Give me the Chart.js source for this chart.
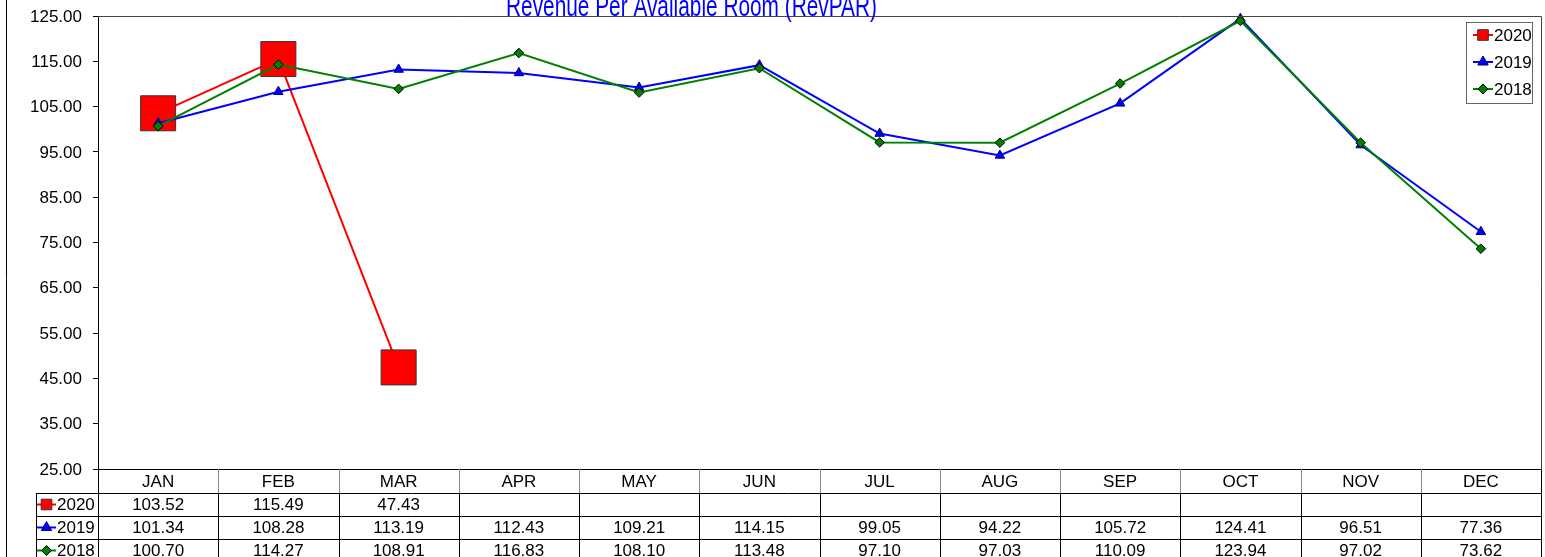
<!DOCTYPE html>
<html>
<head>
<meta charset="utf-8">
<script src="https://cdn.jsdelivr.net/npm/chart.js@4.4.1/dist/chart.umd.min.js"></script>
<style>
  html, body { margin: 0; padding: 0; background: #fff; }
  #wrap { width: 1545px; height: 557px; }
</style>
</head>
<body>
<div id="wrap"><canvas id="revparChart" width="1545" height="557"></canvas></div>
<script>
const chartTitle = 'Revenue Per Available Room (RevPAR)';
const months = ['JAN', 'FEB', 'MAR', 'APR', 'MAY', 'JUN', 'JUL', 'AUG', 'SEP', 'OCT', 'NOV', 'DEC'];
const revpar2020 = [103.52, 115.49, 47.43, null, null, null, null, null, null, null, null, null];
const revpar2019 = [101.34, 108.28, 113.19, 112.43, 109.21, 114.15, 99.05, 94.22, 105.72, 124.41, 96.51, 77.36];
const revpar2018 = [100.70, 114.27, 108.91, 116.83, 108.10, 113.48, 97.10, 97.03, 110.09, 123.94, 97.02, 73.62];
const yMin = 25;
const yMax = 125;
const yStep = 10;

const FONT = '"Liberation Sans", Arial, sans-serif';

const series = [
    { label: '2020', data: revpar2020, color: '#ff0000', fill: '#ff0000', edge: '#333333', style: 'rect', radius: 24.75, legendRadius: 7.5, order: 3 },
    { label: '2019', data: revpar2019, color: '#0000ff', fill: '#0000ff', edge: '#000080', style: 'triangle', radius: 5.5, legendRadius: 6, order: 2 },
    { label: '2018', data: revpar2018, color: '#008000', fill: '#008000', edge: '#000000', style: 'rectRot', radius: 4.8, legendRadius: 5, order: 1 }
];

// marker like chart.js pointStyle, used in legend and table keys
function drawMarker(ctx, style, x, y, r, fill, edge) {
    ctx.save();
    ctx.beginPath();
    if (style === 'rect') {
        const s = r * Math.SQRT1_2;
        ctx.rect(x - s, y - s, 2 * s, 2 * s);
    } else if (style === 'triangle') {
        ctx.moveTo(x, y - r);
        ctx.lineTo(x + 0.866 * r, y + 0.5 * r);
        ctx.lineTo(x - 0.866 * r, y + 0.5 * r);
        ctx.closePath();
    } else {
        ctx.moveTo(x, y - r);
        ctx.lineTo(x + r, y);
        ctx.lineTo(x, y + r);
        ctx.lineTo(x - r, y);
        ctx.closePath();
    }
    ctx.fillStyle = fill;
    ctx.fill();
    ctx.lineWidth = 1;
    ctx.strokeStyle = edge;
    ctx.stroke();
    ctx.restore();
}

function drawKey(ctx, s, x0, x1, y) {
    ctx.save();
    ctx.strokeStyle = s.color;
    ctx.lineWidth = 2;
    ctx.beginPath();
    ctx.moveTo(x0, y);
    ctx.lineTo(x1, y);
    ctx.stroke();
    ctx.restore();
    drawMarker(ctx, s.style, (x0 + x1) / 2, y, s.legendRadius, s.fill, s.edge);
}

const extrasPlugin = {
    id: 'extras',
    afterDraw(chart) {
        const ctx = chart.ctx;
        const area = chart.chartArea;
        const xs = chart.scales.x;
        const ys = chart.scales.y;

        ctx.save();
        // outer frame line on the left
        ctx.strokeStyle = '#000';
        ctx.lineWidth = 1;
        ctx.beginPath();
        ctx.moveTo(6.5, 0);
        ctx.lineTo(6.5, 557);
        ctx.stroke();

        // plot border top + right
        ctx.strokeStyle = '#444';
        ctx.beginPath();
        ctx.moveTo(area.left, area.top + 0.5);
        ctx.lineTo(area.right + 0.5, area.top + 0.5);
        ctx.lineTo(area.right + 0.5, 557);
        ctx.stroke();

        // y tick labels
        ctx.fillStyle = '#000';
        ctx.font = '17px ' + FONT;
        ctx.textAlign = 'right';
        ctx.textBaseline = 'middle';
        ys.ticks.forEach(t => {
            ctx.fillText(t.value.toFixed(2), area.left - 16, ys.getPixelForValue(t.value) + 1);
        });

        // data table
        const headTop = area.bottom;
        const headBottom = headTop + 24;
        const rowH = 23;
        const keyLeft = 36.5;
        const bounds = [area.left];
        for (let i = 1; i < months.length; i++) {
            bounds.push((xs.getPixelForValue(i - 1) + xs.getPixelForValue(i)) / 2);
        }
        bounds.push(area.right);

        ctx.lineWidth = 1;
        ctx.strokeStyle = '#000';
        ctx.beginPath();
        ctx.moveTo(area.left, headTop + 0.5);
        ctx.lineTo(area.right, headTop + 0.5);
        for (let r = 0; r <= series.length; r++) {
            const y = Math.round(headBottom + r * rowH) + 0.5;
            ctx.moveTo(keyLeft, y);
            ctx.lineTo(area.right, y);
        }
        ctx.moveTo(keyLeft, headBottom);
        ctx.lineTo(keyLeft, 557);
        ctx.stroke();

        bounds.forEach((bx, i) => {
            const x = Math.round(bx) + 0.5;
            ctx.strokeStyle = (i === 0 || i === bounds.length - 1) ? '#000' : '#888';
            ctx.beginPath();
            ctx.moveTo(x, headTop);
            ctx.lineTo(x, headBottom);
            ctx.stroke();
            ctx.strokeStyle = '#000';
            ctx.beginPath();
            ctx.moveTo(x, headBottom);
            ctx.lineTo(x, 557);
            ctx.stroke();
        });

        ctx.fillStyle = '#000';
        ctx.textAlign = 'center';
        months.forEach((m, i) => {
            ctx.fillText(m, xs.getPixelForValue(i), (headTop + headBottom) / 2 + 1);
        });
        series.forEach((s, r) => {
            const cy = headBottom + r * rowH + rowH / 2 + 1;
            s.data.forEach((v, i) => {
                if (v === null) return;
                ctx.fillText(v.toFixed(2), xs.getPixelForValue(i), cy);
            });
            drawKey(ctx, s, 37, 56, cy - 1);
            ctx.textAlign = 'left';
            ctx.fillStyle = '#000';
            ctx.fillText(s.label, 57, cy);
            ctx.textAlign = 'center';
        });

        // legend box
        const lx = 1466.5, ly = 22.5, lw = 66, lh = 81;
        ctx.fillStyle = '#fff';
        ctx.fillRect(lx, ly, lw, lh);
        ctx.strokeStyle = '#666';
        ctx.strokeRect(lx, ly, lw, lh);
        series.forEach((s, i) => {
            const cy = 35 + i * 27;
            drawKey(ctx, s, 1473, 1493, cy);
            ctx.fillStyle = '#000';
            ctx.textAlign = 'left';
            ctx.textBaseline = 'middle';
            ctx.fillText(s.label, 1494, cy + 1);
        });

        // title, squeezed like the original and clipped by the top edge
        ctx.font = '30px ' + FONT;
        ctx.fillStyle = '#0000ff';
        ctx.textAlign = 'left';
        ctx.textBaseline = 'alphabetic';
        const tw = ctx.measureText(chartTitle).width;
        ctx.translate(506, 16);
        ctx.scale(371 / tw, 1);
        ctx.fillText(chartTitle, 0, 0);
        ctx.restore();
    }
};

new Chart(document.getElementById('revparChart'), {
    type: 'line',
    data: {
        labels: months,
        datasets: series.map(s => ({
            label: s.label,
            data: s.data,
            order: s.order,
            borderColor: s.color,
            backgroundColor: s.fill,
            borderWidth: 2,
            tension: 0,
            fill: false,
            spanGaps: false,
            clip: false,
            pointStyle: s.style,
            pointRadius: s.radius,
            pointHoverRadius: s.radius,
            pointBackgroundColor: s.fill,
            pointBorderColor: s.edge,
            pointBorderWidth: 1
        }))
    },
    options: {
        responsive: false,
        animation: false,
        events: [],
        layout: { autoPadding: false, padding: { left: 0, top: 16, right: 4, bottom: 88 } },
        plugins: {
            legend: { display: false },
            title: { display: false },
            tooltip: { enabled: false }
        },
        scales: {
            x: {
                type: 'category',
                offset: true,
                display: false,
                ticks: { display: false }
            },
            y: {
                min: yMin,
                max: yMax,
                afterFit(scale) { scale.width = 98; },
                ticks: {
                    stepSize: yStep,
                    display: false
                },
                grid: {
                    drawOnChartArea: false,
                    drawTicks: true,
                    tickLength: 5,
                    color: '#000'
                },
                border: { display: true, color: '#000', width: 1 }
            }
        }
    },
    plugins: [extrasPlugin]
});
</script>
</body>
</html>
